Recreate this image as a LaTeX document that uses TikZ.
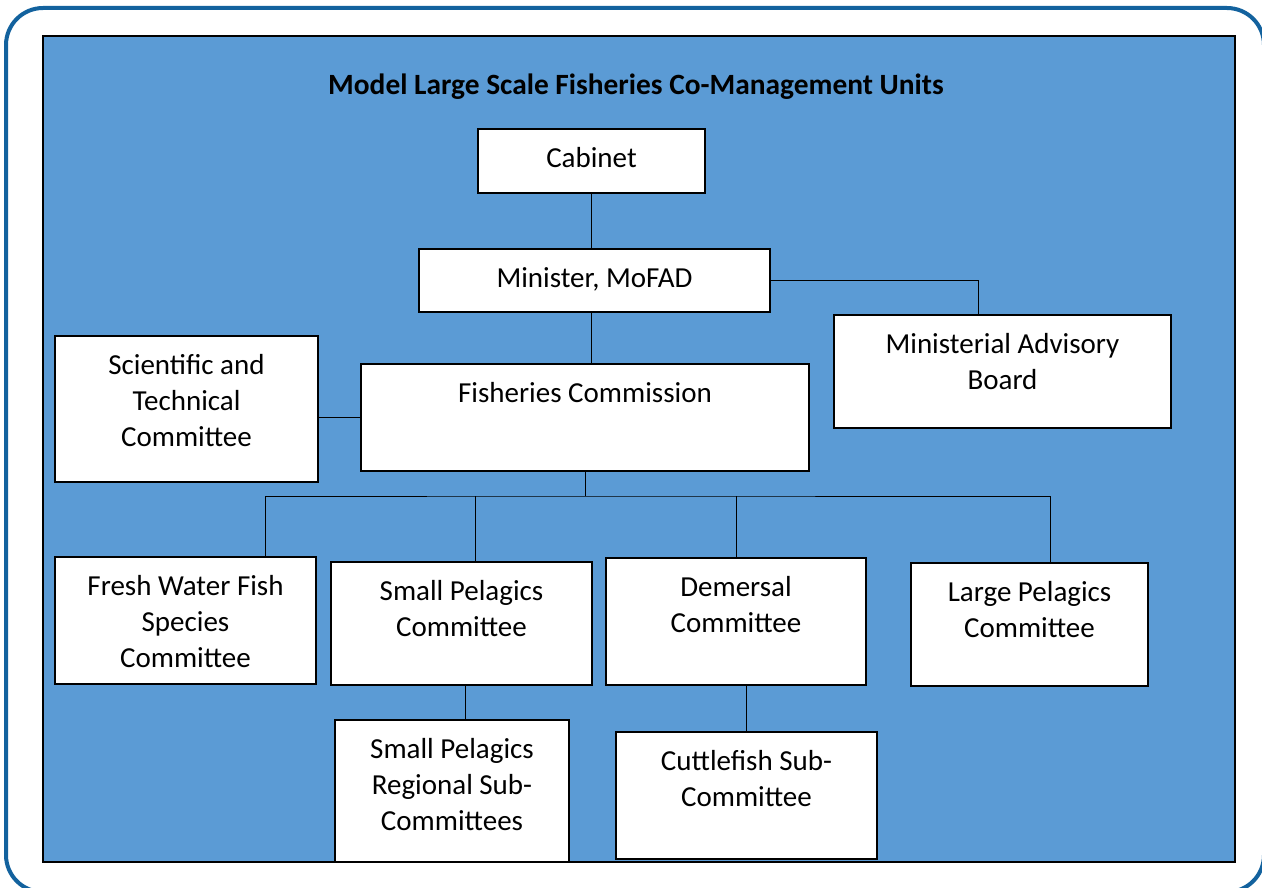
\documentclass[tikz,border=0pt]{standalone}
\usepackage{fontspec}
\setmainfont{Carlito}
\usetikzlibrary{positioning}

\definecolor{framecol}{RGB}{19,98,158}
\definecolor{panelcol}{RGB}{91,155,213}

\tikzset{
  unit/.style={draw=black, fill=white, line width=1.3pt, inner sep=0pt},
  unittext/.style={align=center, inner sep=0pt, font=\fontsize{29}{36}\selectfont},
  link/.style={line width=1pt, black},
}

\begin{document}
\begin{tikzpicture}[x=1pt,y=-1pt]
  \useasboundingbox (0,0) rectangle (1262,888);
  % frame and panel
  \draw[framecol, line width=4pt, rounded corners=37pt] (6,8) rectangle (1264,892);
  \draw[fill=panelcol, line width=2pt] (43,36) rectangle (1235,862);
  \node[font=\bfseries\fontsize{29.4}{34}\selectfont] (title) at (636,87) {Model Large Scale Fisheries Co-Management Units};

  % units
  \node[unit, minimum width=227pt, minimum height=64pt] (cab) at (591.5,161) {};
  \node[unit, minimum width=351pt, minimum height=63pt] (min) at (594.5,280.5) {};
  \node[unit, minimum width=337pt, minimum height=113pt] (mab) at (1002.5,371.5) {};
  \node[unit, minimum width=263pt, minimum height=146pt] (stc) at (186.5,409) {};
  \node[unit, minimum width=448pt, minimum height=107pt] (fc) at (585,417.5) {};
  \node[unit, minimum width=261pt, minimum height=127pt] (fw) at (185.5,620.5) {};
  \node[unit, minimum width=261pt, minimum height=123pt] (sp) at (461.5,623.5) {};
  \node[unit, minimum width=260pt, minimum height=127pt] (dem) at (736,621.5) {};
  \node[unit, minimum width=237pt, minimum height=123pt] (lp) at (1029.5,624.5) {};
  \node[unit, minimum width=234pt, minimum height=142pt] (spr) at (452,791) {};
  \node[unit, minimum width=261pt, minimum height=127pt] (cut) at (746.5,795.5) {};

  % texts
  \node[unittext, below=19pt of cab.north] (cab-t) {Cabinet};
  \node[unittext, below=19pt of min.north] (min-t) {Minister, MoFAD};
  \node[unittext, below=19pt of mab.north] (mab-t) {Ministerial Advisory\\Board};
  \node[unittext, below=19pt of stc.north] (stc-t) {Scientific and\\Technical\\Committee};
  \node[unittext, below=19pt of fc.north] (fc-t) {Fisheries Commission};
  \node[unittext, below=19pt of fw.north] (fw-t) {Fresh Water Fish\\Species\\Committee};
  \node[unittext, below=19pt of sp.north] (sp-t) {Small Pelagics\\Committee};
  \node[unittext, below=19pt of dem.north] (dem-t) {Demersal\\Committee};
  \node[unittext, below=19pt of lp.north] (lp-t) {Large Pelagics\\Committee};
  \node[unittext, below=19pt of spr.north] (spr-t) {Small Pelagics\\Regional Sub-\\Committees};
  \node[unittext, below=19pt of cut.north] (cut-t) {Cuttlefish Sub-\\Committee};

  % links
  \coordinate (bus) at (585,496);
  \draw[link] (cab.south) -- (cab.south |- min.north);
  \draw[link] (min.east) -| ([xshift=-24.5pt]mab.north);
  \draw[link] ([xshift=-3.5pt]min.south) -- ([xshift=-3.5pt]min.south |- fc.north);
  \draw[link] (fc.west) -- (fc.west -| stc.east);
  \draw[link] (fc.south) -- (bus);
  \draw[link] ([xshift=79.5pt]fw.north) |- (bus) -| ([xshift=20.5pt]lp.north);
  \draw[link] ([xshift=13.5pt]sp.north) -- ([xshift=13.5pt]sp.north |- bus);
  \draw[link] (dem.north) -- (dem.north |- bus);
  \draw[link] ([xshift=3.5pt]sp.south) -- ([xshift=3.5pt]sp.south |- spr.north);
  \draw[link] ([xshift=10pt]dem.south) -- ([xshift=10pt]dem.south |- cut.north);
\end{tikzpicture}
\end{document}
